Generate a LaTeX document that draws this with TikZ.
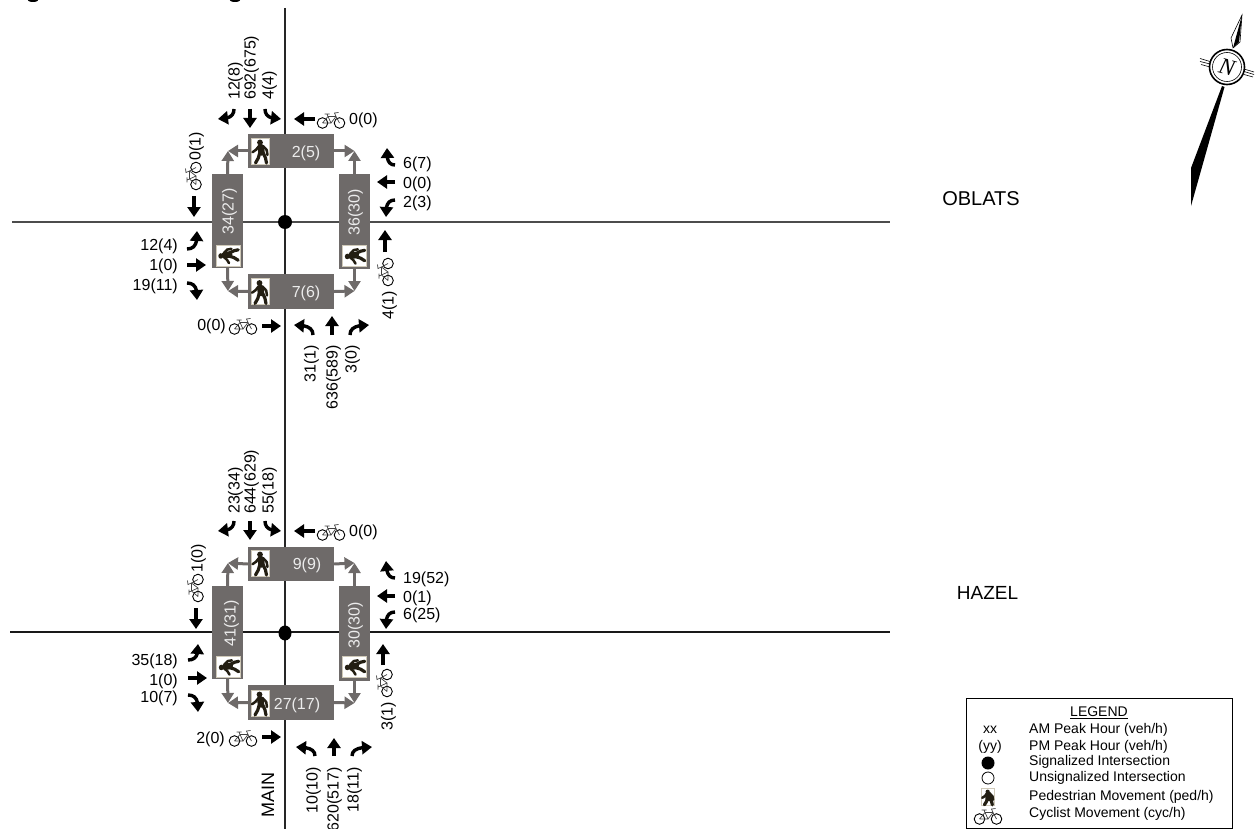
\documentclass[tikz,border=0pt]{standalone}
\usepackage{fontspec}
\setmainfont{Liberation Sans}
\newfontfamily\compassfont{Liberation Serif}
\usetikzlibrary{arrows.meta,bending,calc,shapes.geometric}
\definecolor{boxgrey}{HTML}{6E6A69}
\definecolor{boxtext}{HTML}{ECECEC}
\definecolor{figdark}{HTML}{231E12}
\definecolor{iconedge}{HTML}{CFC9B8}
\tikzset{
  roadv/.style={draw=black!85,line width=1.1pt},
  roadh/.style={draw=black!70,line width=1.2pt},
  mvarrow/.style={draw=black,line width=3.4pt,-{Triangle[length=10pt,width=13pt]}},
  grarrow/.style={draw=boxgrey,line width=3pt,-{Triangle[length=10pt,width=12pt]}},
  wbox/.style={fill=boxgrey,inner sep=0pt,minimum width=#1},
  wbox/.default=31pt,
  lab/.style={inner sep=0pt,font=\fontsize{16}{18}\selectfont,text height=11.6pt,text depth=.2pt},
  boxlab/.style={lab,text=boxtext},
  streetlab/.style={inner sep=0pt,font=\fontsize{18}{20}\selectfont},
  legtext/.style={inner sep=0pt,anchor=west,font=\fontsize{14}{16}\selectfont},
  signal/.style={circle,fill=black,inner sep=0pt,minimum size=#1}
}
\newcommand{\mv}[3]{\coordinate (#1a) at (#2); \coordinate (#1b) at (#3); \draw[mvarrow] (#1a) -- (#1b);}
\newcommand{\mvt}[4]{\coordinate (#1a) at (#2); \coordinate (#1c) at (#3); \coordinate (#1b) at (#4); \draw[mvarrow] (#1a) .. controls ($(#1a)!.75!(#1c)$) and ($(#1c)!.35!(#1b)$) .. (#1b);}
\newcommand{\bikeicon}[2]{%
  \begin{scope}[shift={(#1)},rotate=#2]
    \draw[black,line width=.9pt] (-8.5,3) circle (5.3) (8.5,3) circle (5.3);
    \draw[black!75,line width=.7pt] (-8.5,3) -- (-3,-3.5) -- (5,-3.5) -- (8.5,3) (-3,-3.5) -- (0,3) -- (5,-3.5) (-8.5,3) -- (0,3)
      (5,-3.5) -- (3.5,-7) -- (7.5,-7.5) (-3,-3.5) -- (-4,-6) (-6.5,-6) -- (-1.5,-6);
  \end{scope}}
\newcommand{\walker}{%
  \fill[figdark] (-.5,-8.5) circle (2.9);
  \draw[figdark,line width=6.5pt,line cap=round] (.3,-3.8) -- (1,1.5);
  \draw[figdark,line width=2.5pt,line cap=round,line join=round]
    (-1.5,-5) -- (-4.5,-1.2) -- (-8,1.2) (2.5,-5) -- (6.2,-1) -- (7,4);
  \draw[figdark,line width=3.2pt,line cap=round,line join=round]
    (-.8,2) -- (-2.2,7) -- (-5,12) (2.8,2) -- (5,7) -- (6,12);}
\newcommand{\pedup}[1]{%
  \fill[white,draw=iconedge,line width=.5pt] ($(#1)+(-9,-13)$) rectangle ($(#1)+(9,13)$);
  \begin{scope}[shift={(#1)}]\walker\end{scope}}
\newcommand{\pedside}[1]{%
  \fill[white,draw=iconedge,line width=.5pt] ($(#1)+(-12,-10.5)$) rectangle ($(#1)+(12,10.5)$);
  \begin{scope}[shift={(#1)},rotate=90,xscale=.95,yscale=.85]\walker\end{scope}}
\begin{document}
\begin{tikzpicture}[x=1pt,y=-1pt]
\useasboundingbox (0,0) rectangle (1257,829);
% clipped remnants at the top edge
\fill[black] (33,-1) ellipse (6 and 3);
\fill[black] (235,-1) ellipse (6 and 3);
% roads
\coordinate (roadTop) at (285,8);
\coordinate (roadBot) at (285,829);
\coordinate (obW) at (12,222);
\coordinate (obE) at (890,222);
\coordinate (hzW) at (10,632);
\coordinate (hzE) at (890,632);
\draw[roadv] (roadTop) -- (roadBot);
\draw[roadh] (obW) -- (obE);
\draw[roadh,draw=black!90] (hzW) -- (hzE);
\node[signal=14pt] (sig1) at (285,222) {};
\node[fill=black,inner sep=0pt,minimum width=13pt,minimum height=15pt,shape=ellipse] (sig2) at (285,633) {};

% ---------- OBLATS boxes
\node[wbox=86pt,minimum height=34pt] (nb1) at (291,151) {};
\node[wbox=86pt,minimum height=35pt] (sb1) at (291,291.5) {};
\node[wbox=31pt,minimum height=94pt] (wb1) at (227.5,221) {};
\node[wbox=31pt,minimum height=95pt] (eb1) at (354.5,221.5) {};
\coordinate (c1nw) at (228,151);
\coordinate (c1ne) at (354.5,151);
\coordinate (c1sw) at (228,291);
\coordinate (c1se) at (354.5,291);
\draw[grarrow] (nb1.west) -- (c1nw);
\draw[grarrow] (wb1.north) -- (c1nw);
\draw[grarrow] (nb1.east) -- (c1ne);
\draw[grarrow] (eb1.north) -- (c1ne);
\draw[grarrow] (sb1.west) -- (c1sw);
\draw[grarrow] (wb1.south) -- (c1sw);
\draw[grarrow] (sb1.east) -- (c1se);
\draw[grarrow] (eb1.south) -- (c1se);
\pedup{260.5,151}
\pedup{260,291.5}
\pedside{228,255.5}
\pedside{354.5,256}
\node[boxlab] (t1n) at (306,152) {2(5)};
\node[boxlab] (t1s) at (306,292) {7(6)};
\node[boxlab,rotate=90] (t1w) at (228,211) {34(27)};
\node[boxlab,rotate=90] (t1e) at (354,212) {36(30)};

% ---------- HAZEL boxes
\node[wbox=86pt,minimum height=34pt] (nb2) at (291,564) {};
\node[wbox=86pt,minimum height=35pt] (sb2) at (291,702.5) {};
\node[wbox=31pt,minimum height=93pt] (wb2) at (227.5,632.5) {};
\node[wbox=31pt,minimum height=95pt] (eb2) at (354.5,633.5) {};
\coordinate (c2nw) at (228,563);
\coordinate (c2ne) at (354.5,563);
\coordinate (c2sw) at (228,703);
\coordinate (c2se) at (354.5,703);
\draw[grarrow] (nb2.west) -- (c2nw);
\draw[grarrow] (wb2.north) -- (c2nw);
\draw[grarrow] (nb2.east) -- (c2ne);
\draw[grarrow] (eb2.north) -- (c2ne);
\draw[grarrow] (sb2.west) -- (c2sw);
\draw[grarrow] (wb2.south) -- (c2sw);
\draw[grarrow] (sb2.east) -- (c2se);
\draw[grarrow] (eb2.south) -- (c2se);
\pedup{260.5,563}
\pedup{260,703}
\pedside{228.5,667}
\pedside{354.5,667}
\node[boxlab] (t2n) at (307,563.5) {9(9)};
\node[boxlab] (t2s) at (297,704) {27(17)};
\node[boxlab,rotate=90] (t2w) at (230,623) {41(31)};
\node[boxlab,rotate=90] (t2e) at (354,625) {30(30)};

% ---------- OBLATS movements
\mvt{a1}{234,109}{234,119}{218,119}
\mv{a2}{250,109}{250,128}
\mvt{a3}{265,109}{265,119}{281,119}
\mv{a4}{315,119}{294,119}
\bikeicon{331,120}{0}
\node[lab,anchor=west] (l4) at (349,119) {0(0)};
\node[lab,rotate=90,anchor=west] (l1) at (234,100) {12(8)};
\node[lab,rotate=90,anchor=west] (l2) at (250,100) {692(675)};
\node[lab,rotate=90,anchor=west] (l3) at (268,100) {4(4)};
\mvt{b1}{395,165}{386,165}{387,148}
\mv{b2}{395,182}{377,182}
\mvt{b3}{395,200}{385,200}{386,217}
\node[lab,anchor=west] (l5) at (403,163) {6(7)};
\node[lab,anchor=west] (l6) at (403,183) {0(0)};
\node[lab,anchor=west] (l7) at (403,202) {2(3)};
\mv{b4}{385,252}{385,230}
\bikeicon{385,272}{90}
\node[lab,rotate=90,anchor=center] (l8) at (388,305) {4(1)};
\mv{c1}{194,196}{194,217}
\bikeicon{193,176}{90}
\node[lab,rotate=90,anchor=west] (l9) at (195,161) {0(1)};
\mvt{d1}{187,249}{198,249}{197,231}
\mv{d2}{187,265}{206,265}
\mvt{d3}{187,283}{198,283}{197,300}
\node[lab,anchor=east] (l10) at (178,245) {12(4)};
\node[lab,anchor=east] (l11) at (178,265) {1(0)};
\node[lab,anchor=east] (l12) at (178,285) {19(11)};
\node[lab,anchor=east] (l13) at (226,325) {0(0)};
\bikeicon{243,326}{0}
\mv{e1}{262,326}{281,326}
\mvt{f1}{313,335}{313,325}{294,325}
\mv{f2}{332,335}{332,316}
\mvt{f3}{350,335}{350,325}{369,325}
\node[lab,rotate=90,anchor=east] (l14) at (310,345) {31(1)};
\node[lab,rotate=90,anchor=east] (l15) at (332,345) {636(589)};
\node[lab,rotate=90,anchor=east] (l16) at (351,345) {3(0)};

% ---------- HAZEL movements
\mvt{g1}{234,521}{234,531}{218,531}
\mv{g2}{250,521}{250,540}
\mvt{g3}{265,521}{265,531}{281,531}
\mv{g4}{315,531}{294,531}
\bikeicon{331,532}{0}
\node[lab,anchor=west] (m4) at (349,531) {0(0)};
\node[lab,rotate=90,anchor=west] (m1) at (234,514) {23(34)};
\node[lab,rotate=90,anchor=west] (m2) at (250,514) {644(629)};
\node[lab,rotate=90,anchor=west] (m3) at (268,514) {55(18)};
\mvt{h1}{395,578}{386,578}{386,561}
\mv{h2}{395,596}{377,596}
\mvt{h3}{395,612}{385,612}{386,629}
\node[lab,anchor=west] (m5) at (403,578) {19(52)};
\node[lab,anchor=west] (m6) at (403,597) {0(1)};
\node[lab,anchor=west] (m7) at (403,614) {6(25)};
\mv{h4}{383,665}{383,644}
\bikeicon{384,683}{90}
\node[lab,rotate=90,anchor=center] (m8) at (387,716) {3(1)};
\mv{i1}{196,608}{196,629}
\bikeicon{195,588}{90}
\node[lab,rotate=90,anchor=west] (m9) at (197,573) {1(0)};
\mvt{j1}{188,660}{199,660}{198,644}
\mv{j2}{188,678}{207,678}
\mvt{j3}{188,695}{199,695}{198,712}
\node[lab,anchor=east] (m10) at (178,660) {35(18)};
\node[lab,anchor=east] (m11) at (178,680) {1(0)};
\node[lab,anchor=east] (m12) at (178,697) {10(7)};
\node[lab,anchor=east] (m13) at (225,738) {2(0)};
\bikeicon{243,738}{0}
\mv{k1}{262,737}{281,737}
\mvt{n1}{315,756}{315,747}{296,747}
\mv{n2}{334,756}{334,738}
\mvt{n3}{352,756}{352,747}{372,747}
\node[lab,rotate=90,anchor=east] (m14) at (312,767) {10(10)};
\node[lab,rotate=90,anchor=east] (m15) at (333,767) {620(517)};
\node[lab,rotate=90,anchor=east] (m16) at (353,767) {18(11)};

% street names
\node[streetlab,font=\fontsize{20}{22}\selectfont] (oblats) at (981,199) {OBLATS};
\node[streetlab,font=\fontsize{19}{21}\selectfont] (hazel) at (987.5,593) {HAZEL};
\node[streetlab,rotate=90] (main) at (268,795) {MAIN};

% compass
\fill[black] (1222,86) -- (1191,168) -- (1191,206) -- (1224.5,87) -- cycle;
\fill[white,draw=black,line width=.6pt] (1242,15) -- (1231,38) -- (1233,48) -- (1240,42) -- cycle;
\fill[black] (1242,15) -- (1240,33) -- (1239,42) -- (1233,48) -- cycle;
\draw[black,line width=.6pt] (1200,58.5) -- (1210,61.5) (1200,61.5) -- (1210,64) (1201,64.5) -- (1210,67)
  (1244,69) -- (1254,72) (1244,71.5) -- (1254,74.5) (1244,74.5) -- (1253,77);
\fill[white,draw=black,line width=1.6pt] (1227,67) circle (17.5);
\draw[black,line width=.6pt] (1227,67) circle (14.5);
\node[inner sep=0pt,rotate=-15,font=\compassfont\itshape\fontsize{23}{25}\selectfont] (north) at (1227,67) {N};

% legend
\node[draw=black,line width=.8pt,fill=white,inner sep=0pt,minimum width=266pt,minimum height=130pt] (legend) at (1099,763) {};
\node[inner sep=0pt,font=\fontsize{14}{16}\selectfont] (legT) at (1099,713) {\underline{LEGEND}};
\node[inner sep=0pt,font=\fontsize{14}{16}\selectfont] (legA) at (990,730) {xx};
\node[inner sep=0pt,font=\fontsize{14}{16}\selectfont] (legB) at (990,747) {(yy)};
\node[signal=13pt] (legC) at (988,763) {};
\node[circle,draw=black,fill=white,line width=.8pt,inner sep=0pt,minimum size=12pt] (legD) at (988,778) {};
\begin{scope}[shift={(988,797)},xscale=.72,yscale=.65]
  \fill[white,draw=iconedge,line width=.5pt] (-9,-13) rectangle (9,13);
  \walker
\end{scope}
\bikeicon{988,816}{0}
\node[legtext] (leg1) at (1029,730) {AM Peak Hour (veh/h)};
\node[legtext] (leg2) at (1029,747) {PM Peak Hour (veh/h)};
\node[legtext] (leg3) at (1029,762) {Signalized Intersection};
\node[legtext] (leg4) at (1029,778) {Unsignalized Intersection};
\node[legtext] (leg5) at (1029,797) {Pedestrian Movement (ped/h)};
\node[legtext] (leg6) at (1029,814) {Cyclist Movement (cyc/h)};
\end{tikzpicture}
\end{document}
